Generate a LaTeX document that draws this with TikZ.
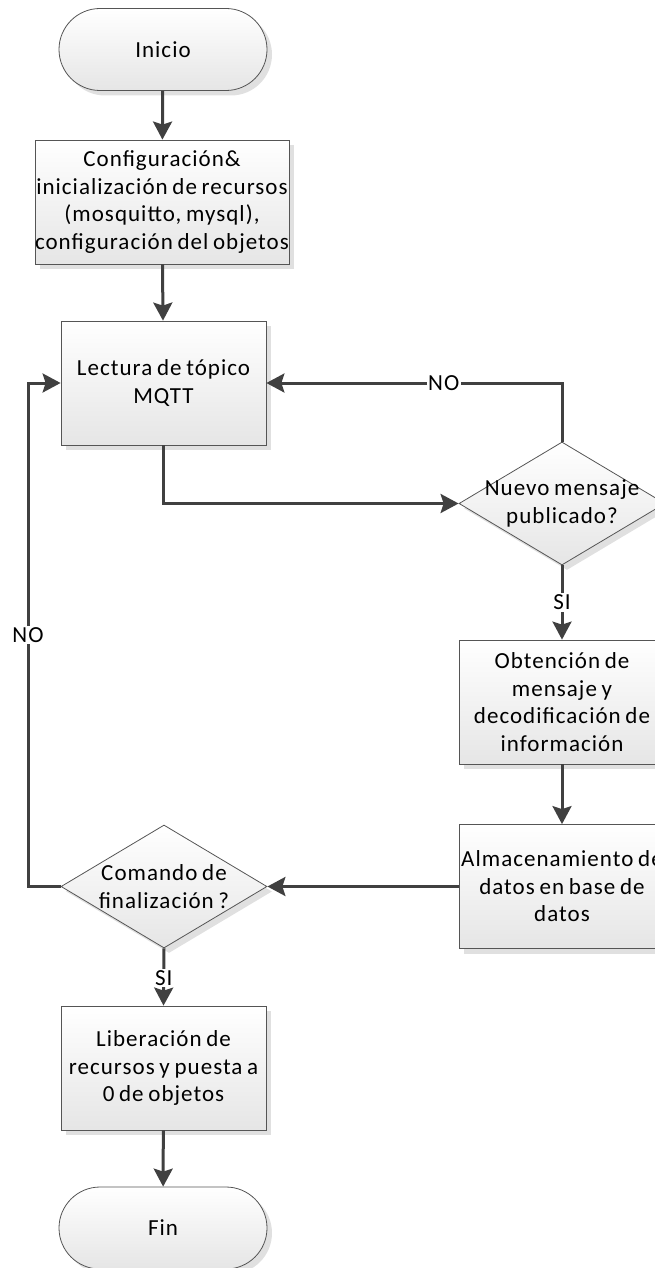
\documentclass[tikz,border=0pt]{standalone}
\usepackage{fontspec}
\setmainfont{Carlito}[LetterSpace=4.5, WordSpace=0.75]
\usetikzlibrary{shapes.geometric,shadows,arrows.meta}
\definecolor{linegray}{HTML}{404040}
\definecolor{edgegray}{HTML}{555555}
\begin{document}
\begin{tikzpicture}[x=1pt,y=-1pt,
  every node/.style={font=\fontsize{23}{27.5}\selectfont, align=center, text=black},
  base/.style={draw=edgegray, line width=0.8pt, shading=axis, top color=white,
    bottom color=black!10, inner sep=0pt,
    drop shadow={shadow xshift=5pt, shadow yshift=-5pt, fill=black!12, opacity=1}},
  procbox/.style={base, rectangle, minimum width=205pt, minimum height=124pt},
  termbox/.style={base, rectangle, rounded corners=41pt, minimum width=208pt, minimum height=82pt},
  decbox/.style={base, diamond, minimum width=206pt, minimum height=123pt},
  flow/.style={draw=linegray, line width=3pt, -{Stealth[length=18pt,width=19pt,inset=3pt]}},
  edgelabel/.style={fill=white, inner sep=1.5pt},
]
\useasboundingbox (0,0) rectangle (655,1268);
\clip (0,0) rectangle (655,1268);

% left column
\node[termbox] (inicio) at (163,49.5) {Inicio};
\node[procbox, minimum width=250pt] (config) at (162,202)
  {Configuración\&\\inicialización de recursos\\(mosquitto, mysql),\\configuración del objetos};
\node[procbox] (lectura) at (163.5,383) {Lectura de tópico\\MQTT};
\node[decbox] (comando) at (164,886.5) {};
\node (comando-t) at (comando) {Comando de\\finalización ?};
\node[procbox] (liberacion) at (163.5,1068) {Liberación de\\recursos y puesta a\\0 de objetos};
\node[termbox] (fin) at (163,1228) {Fin};

% right column
\node[decbox] (nuevo) at (562,503.5) {};
\node (nuevo-t) at (nuevo) {Nuevo mensaje\\publicado?};
\node[procbox, minimum width=206pt] (obtencion) at (562,702) {Obtención de\\mensaje y\\decodificación de\\información};
\node[procbox, minimum width=206pt] (almacen) at (562,886.5) {Almacenamiento de\\datos en base de\\datos};

% loop-back rail on the left
\coordinate (rail) at (28,0);

% connectors
\draw[flow] (inicio) -- (config);
\draw[flow] (config) -- (lectura);
\draw[flow] (lectura.south) |- (nuevo.west);
\draw[flow] (nuevo.north) |- (lectura.east)
  node[edgelabel, pos=0.7] (no1) {NO};
\draw[flow] (nuevo.south) -- (obtencion.north)
  node[edgelabel, pos=0.5] (si1) {SI};
\draw[flow] (obtencion) -- (almacen);
\draw[flow] (almacen.west) -- (comando.east);
\draw[flow] (comando.west) -- (comando.west -| rail) -- (lectura.west -| rail)
  node[edgelabel, pos=0.5] (no2) {NO} -- (lectura.west);
\draw[flow] (comando.south) -- (liberacion.north)
  node[edgelabel, pos=0.52] (si2) {SI};
\draw[flow] (liberacion) -- (fin);
\end{tikzpicture}
\end{document}
